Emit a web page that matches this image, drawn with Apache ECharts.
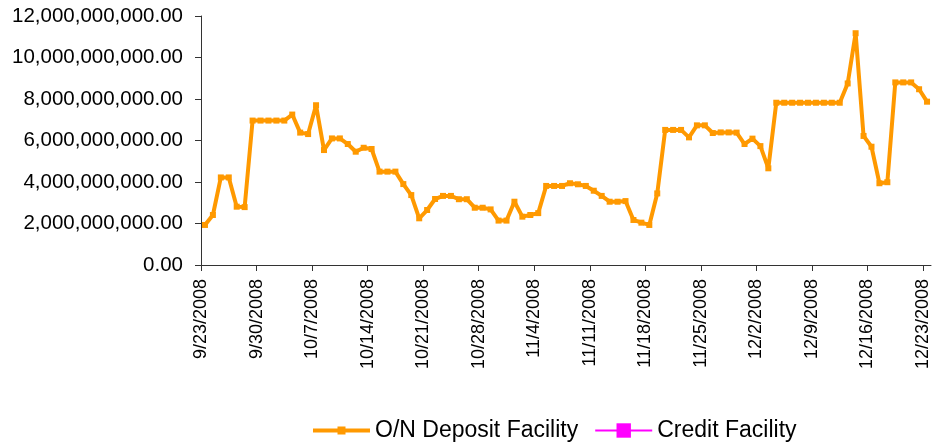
<!DOCTYPE html>
<html>
<head>
	<meta charset="utf-8">
	<title>O/N Deposit Facility</title>
	<script src="https://cdn.jsdelivr.net/npm/echarts@6/dist/echarts.min.js"></script>
	<style>
		html, body { margin: 0; padding: 0; background: #fff; }
		#main { width: 936px; height: 448px; }
	</style>
</head>
<body>
<div id="main"></div>
<script type="text/javascript">

	// one entry per day, 9/23/2008 .. 12/23/2008
	var dates = [
		'9/23/2008','9/24/2008','9/25/2008','9/26/2008','9/27/2008','9/28/2008','9/29/2008',
		'9/30/2008','10/1/2008','10/2/2008','10/3/2008','10/4/2008','10/5/2008','10/6/2008',
		'10/7/2008','10/8/2008','10/9/2008','10/10/2008','10/11/2008','10/12/2008','10/13/2008',
		'10/14/2008','10/15/2008','10/16/2008','10/17/2008','10/18/2008','10/19/2008','10/20/2008',
		'10/21/2008','10/22/2008','10/23/2008','10/24/2008','10/25/2008','10/26/2008','10/27/2008',
		'10/28/2008','10/29/2008','10/30/2008','10/31/2008','11/1/2008','11/2/2008','11/3/2008',
		'11/4/2008','11/5/2008','11/6/2008','11/7/2008','11/8/2008','11/9/2008','11/10/2008',
		'11/11/2008','11/12/2008','11/13/2008','11/14/2008','11/15/2008','11/16/2008','11/17/2008',
		'11/18/2008','11/19/2008','11/20/2008','11/21/2008','11/22/2008','11/23/2008','11/24/2008',
		'11/25/2008','11/26/2008','11/27/2008','11/28/2008','11/29/2008','11/30/2008','12/1/2008',
		'12/2/2008','12/3/2008','12/4/2008','12/5/2008','12/6/2008','12/7/2008','12/8/2008',
		'12/9/2008','12/10/2008','12/11/2008','12/12/2008','12/13/2008','12/14/2008','12/15/2008',
		'12/16/2008','12/17/2008','12/18/2008','12/19/2008','12/20/2008','12/21/2008','12/22/2008',
		'12/23/2008'
	];

	// O/N deposit facility, billions
	var depositBn = [
		1.93, 2.41, 4.22, 4.22, 2.81, 2.79, 6.96,
		6.96, 6.96, 6.96, 6.96, 7.25, 6.38, 6.31,
		7.70, 5.54, 6.10, 6.10, 5.83, 5.46, 5.65,
		5.59, 4.50, 4.50, 4.50, 3.90, 3.37, 2.25,
		2.65, 3.18, 3.33, 3.33, 3.17, 3.17, 2.76,
		2.76, 2.68, 2.14, 2.14, 3.05, 2.33, 2.41,
		2.50, 3.81, 3.81, 3.81, 3.94, 3.89, 3.81,
		3.58, 3.33, 3.05, 3.05, 3.08, 2.17, 2.04,
		1.93, 3.45, 6.51, 6.51, 6.51, 6.15, 6.73,
		6.73, 6.36, 6.39, 6.39, 6.38, 5.83, 6.09,
		5.73, 4.66, 7.82, 7.82, 7.82, 7.82, 7.82,
		7.82, 7.82, 7.82, 7.82, 8.75, 11.17, 6.22,
		5.70, 3.94, 3.99, 8.80, 8.80, 8.80, 8.47,
		7.87
	];

	// credit facility: nothing drawn in the picture
	var credit = [];

	var yTicks = [0, 2e9, 4e9, 6e9, 8e9, 10e9, 12e9];

	// weekly ticks on the day boundaries (every 7th day)
	var weekTicks = [];
	for (var i = 0; i < dates.length; i += 7) weekTicks.push(i);

	// each day sits in the middle of its slot
	var depositData = depositBn.map(function (v, i) {
		return [i + 0.5, v * 1e9];
	});

	function money(v) {
		return v.toFixed(2).replace(/\B(?=(\d{3})+(?!\d))/g, ',');
	}

	var font = "'Liberation Sans', Arial, sans-serif";
	var myChart = echarts.init(document.getElementById('main'));

	var option = {
		backgroundColor: '#ffffff',
		animation: false,
		grid: { left: 201, right: 5, top: 16, bottom: 183 },
		legend: {
			left: 308,
			top: 414,
			itemWidth: 57,
			itemHeight: 18,
			itemGap: 16,
			textStyle: { fontFamily: font, fontSize: 23, color: '#000' },
			data: [
				{ name: 'O/N Deposit Facility', icon: 'path://M0,7.5 L24.5,7.5 L24.5,5.5 L32.5,5.5 L32.5,7.5 L57,7.5 L57,11.5 L32.5,11.5 L32.5,13.5 L24.5,13.5 L24.5,11.5 L0,11.5 Z' },
				{ name: 'Credit Facility' }
			]
		},
		xAxis: {
			type: 'value',
			min: 0,
			max: dates.length,
			splitLine: { show: false },
			axisLine: { onZero: false, lineStyle: { color: '#333', width: 1 } },
			axisTick: { show: true, length: 6, customValues: weekTicks, lineStyle: { color: '#333' } },
			axisLabel: {
				customValues: weekTicks,
				rotate: 90,
				margin: 14,
				fontFamily: font,
				fontSize: 18,
				color: '#000',
				formatter: function (v) { return dates[v] || ''; }
			}
		},
		yAxis: {
			type: 'value',
			min: yTicks[0],
			max: yTicks[yTicks.length - 1],
			interval: yTicks[1] - yTicks[0],
			splitLine: { show: false },
			axisLine: { show: true, lineStyle: { color: '#333', width: 1 } },
			axisTick: { show: true, length: 6, lineStyle: { color: '#333' } },
			axisLabel: {
				margin: 18,
				fontFamily: font,
				fontSize: 20.5,
				color: '#000',
				formatter: money
			}
		},
		series: [
			{
				name: 'O/N Deposit Facility',
				type: 'line',
				data: depositData,
				color: '#FF9900',
				lineStyle: { width: 4, color: '#FF9900' },
				symbol: 'rect',
				symbolSize: 6,
				showAllSymbol: true,
				itemStyle: { color: '#FF9900' }
			},
			{
				name: 'Credit Facility',
				type: 'line',
				data: credit,
				color: '#FF00FF',
				lineStyle: { width: 2, color: '#FF00FF' },
				symbol: 'rect',
				symbolSize: 10,
				itemStyle: { color: '#FF00FF' }
			}
		]
	};
	myChart.setOption(option);
</script>
</body>
</html>
